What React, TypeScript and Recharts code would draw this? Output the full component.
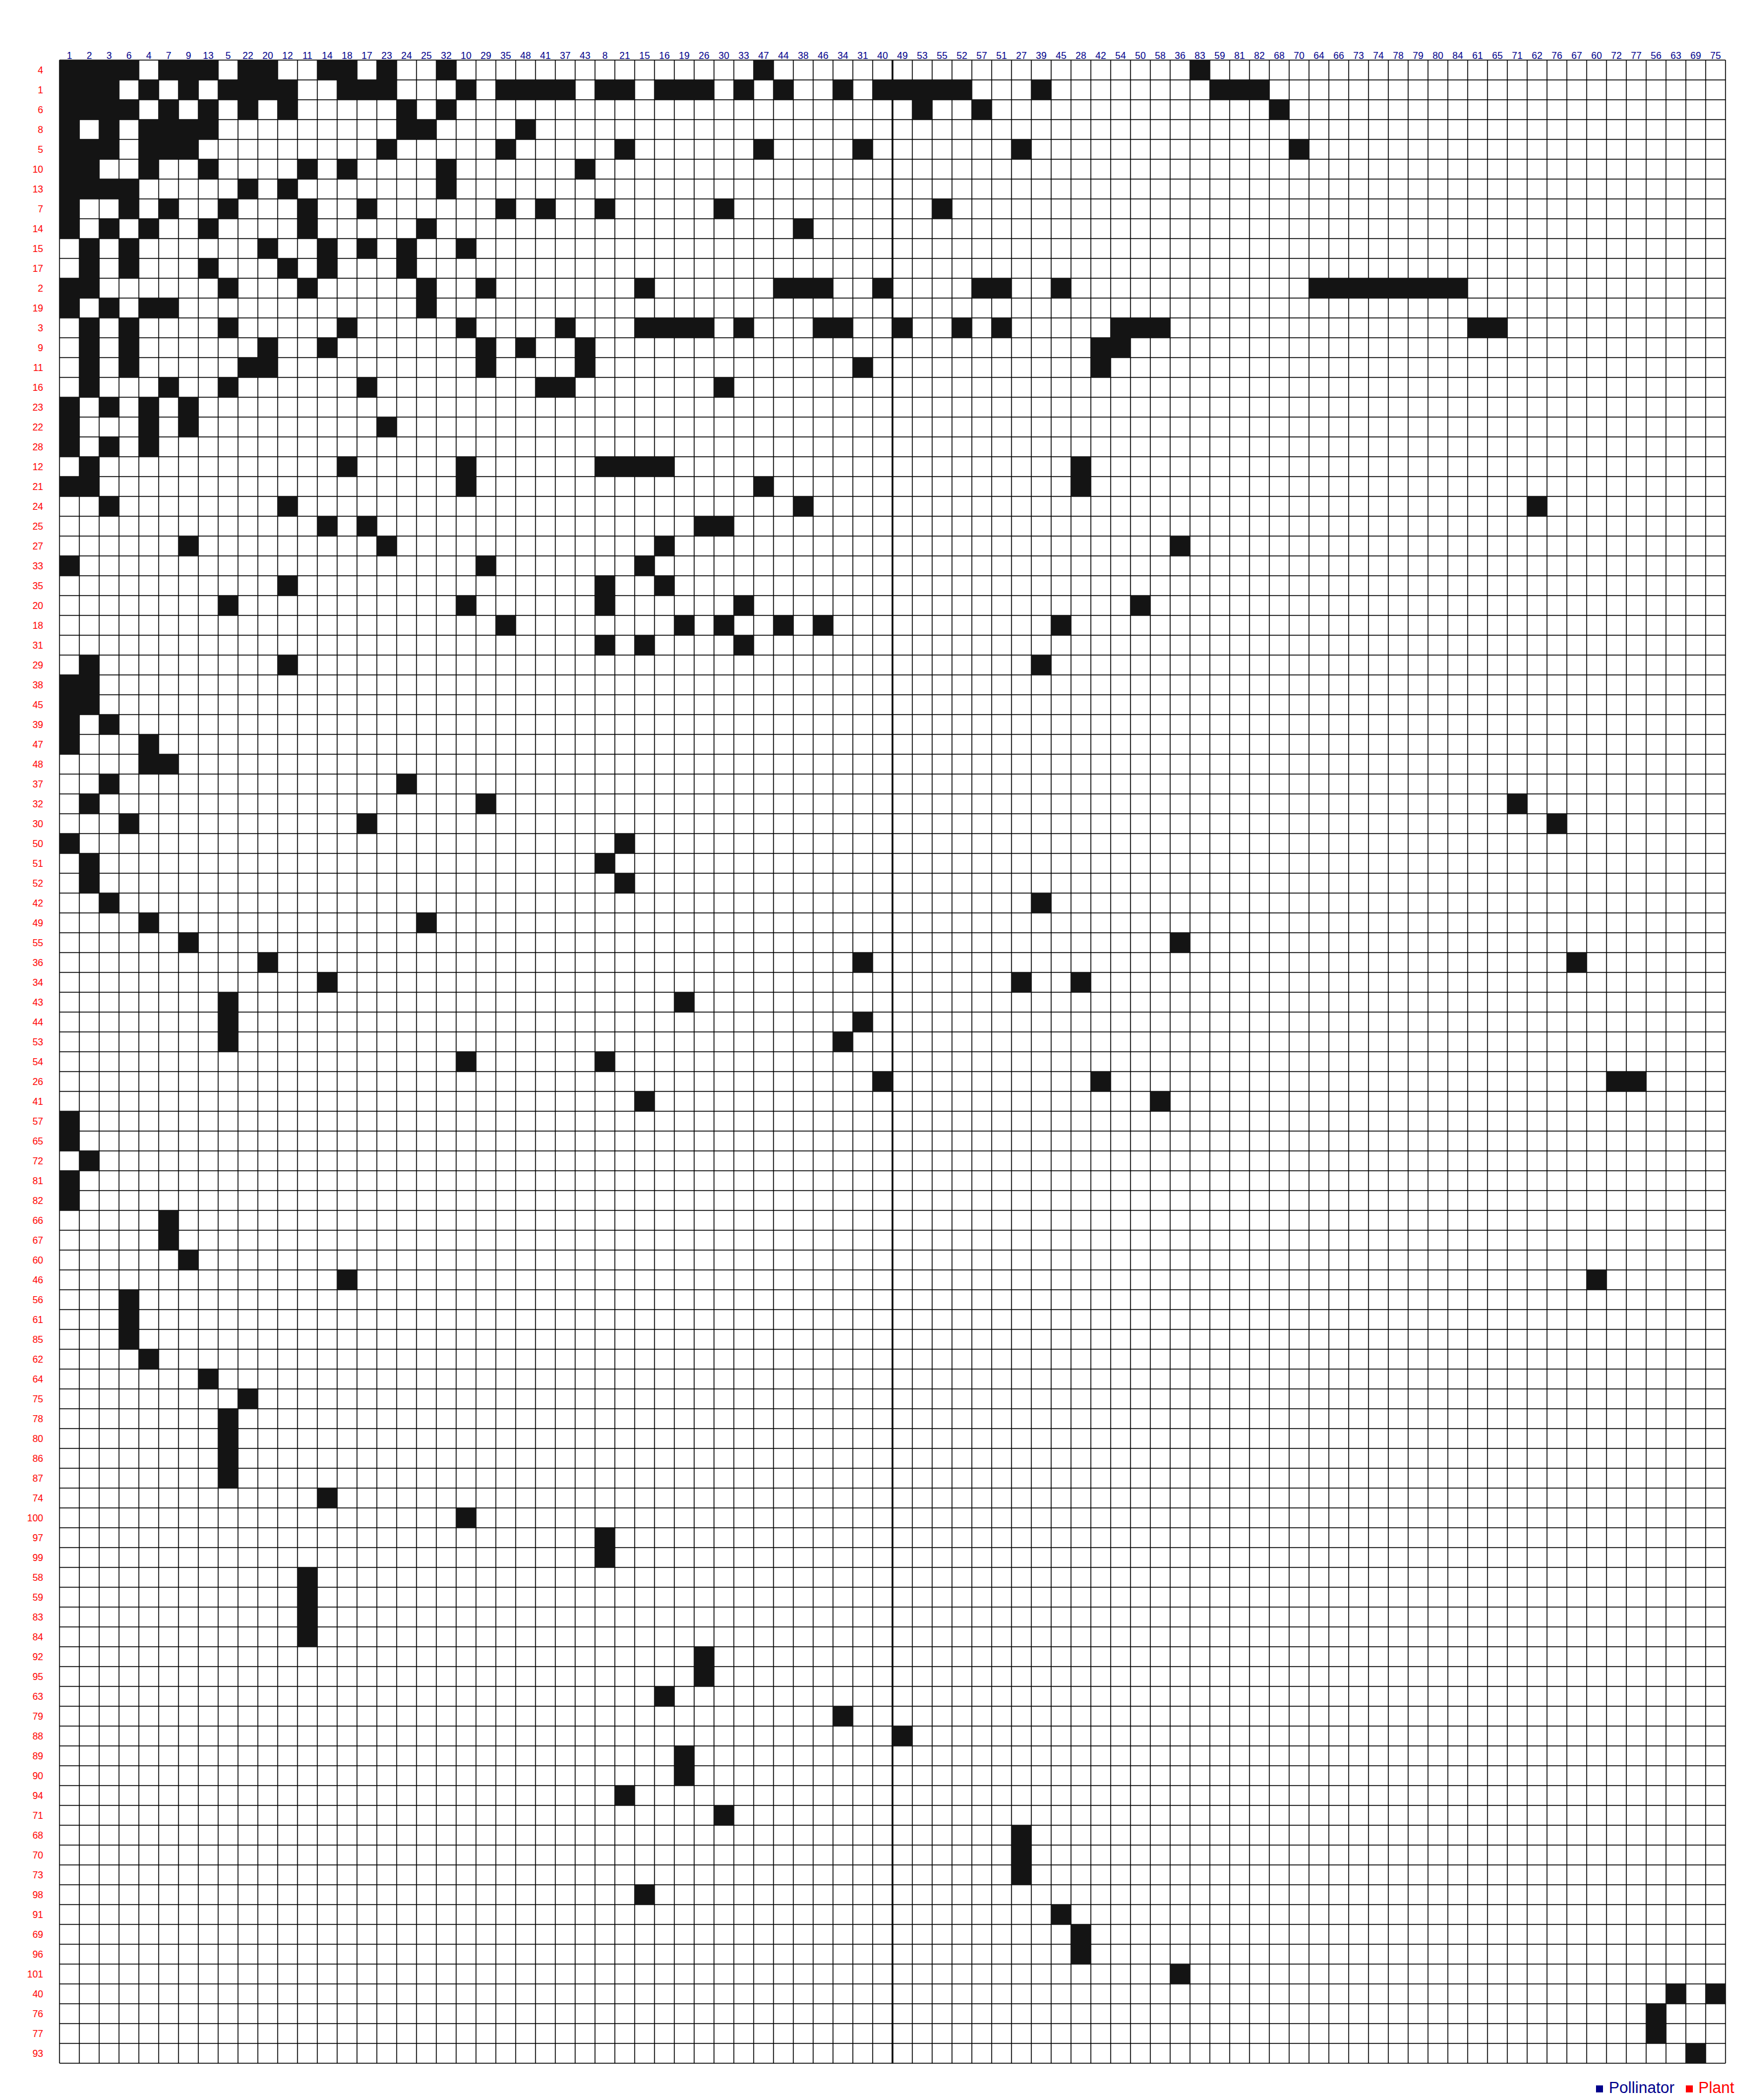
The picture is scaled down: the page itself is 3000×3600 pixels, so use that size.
import React from 'react';
import { ScatterChart, Scatter, XAxis, YAxis, ReferenceLine } from 'recharts';

// Pollinators (columns, top labels)
const pollinators: string[] = [
  '1', '2', '3', '6', '4', '7', '9', '13', '5', '22',
  '20', '12', '11', '14', '18', '17', '23', '24', '25', '32',
  '10', '29', '35', '48', '41', '37', '43', '8', '21', '15',
  '16', '19', '26', '30', '33', '47', '44', '38', '46', '34',
  '31', '40', '49', '53', '55', '52', '57', '51', '27', '39',
  '45', '28', '42', '54', '50', '58', '36', '83', '59', '81',
  '82', '68', '70', '64', '66', '73', '74', '78', '79', '80',
  '84', '61', '65', '71', '62', '76', '67', '60', '72', '77',
  '56', '63', '69', '75',
];

// Plants (rows, left labels)
const plants: string[] = [
  '4', '1', '6', '8', '5', '10', '13', '7', '14', '15',
  '17', '2', '19', '3', '9', '11', '16', '23', '22', '28',
  '12', '21', '24', '25', '27', '33', '35', '20', '18', '31',
  '29', '38', '45', '39', '47', '48', '37', '32', '30', '50',
  '51', '52', '42', '49', '55', '36', '34', '43', '44', '53',
  '54', '26', '41', '57', '65', '72', '81', '82', '66', '67',
  '60', '46', '56', '61', '85', '62', '64', '75', '78', '80',
  '86', '87', '74', '100', '97', '99', '58', '59', '83', '84',
  '92', '95', '63', '79', '88', '89', '90', '94', '71', '68',
  '70', '73', '98', '91', '69', '96', '101', '40', '76', '77',
  '93',
];

// For each plant row: positions (in the pollinators list) of observed interactions
const interactions: number[][] = [
  [0, 1, 2, 3, 5, 6, 7, 9, 10, 13, 14, 16, 19, 35, 57],
  [0, 1, 2, 4, 6, 8, 9, 10, 11, 14, 15, 16, 20, 22, 23, 24, 25, 27, 28, 30, 31, 32, 34, 36, 39, 41, 42, 43, 44, 45, 49, 58, 59, 60],
  [0, 1, 2, 3, 5, 7, 9, 11, 17, 19, 43, 46, 61],
  [0, 2, 4, 5, 6, 7, 17, 18, 23],
  [0, 1, 2, 4, 5, 6, 16, 22, 28, 35, 40, 48, 62],
  [0, 1, 4, 7, 12, 14, 19, 26],
  [0, 1, 2, 3, 9, 11, 19],
  [0, 3, 5, 8, 12, 15, 22, 24, 27, 33, 44],
  [0, 2, 4, 7, 12, 18, 37],
  [1, 3, 10, 13, 15, 17, 20],
  [1, 3, 7, 11, 13, 17],
  [0, 1, 8, 12, 18, 21, 29, 36, 37, 38, 41, 46, 47, 50, 63, 64, 65, 66, 67, 68, 69, 70],
  [0, 2, 4, 5, 18],
  [1, 3, 8, 14, 20, 25, 29, 30, 31, 32, 34, 38, 39, 42, 45, 47, 53, 54, 55, 71, 72],
  [1, 3, 10, 13, 21, 23, 26, 52, 53],
  [1, 3, 9, 10, 21, 26, 40, 52],
  [1, 5, 8, 15, 24, 25, 33],
  [0, 2, 4, 6],
  [0, 4, 6, 16],
  [0, 2, 4],
  [1, 14, 20, 27, 28, 29, 30, 51],
  [0, 1, 20, 35, 51],
  [2, 11, 37, 74],
  [13, 15, 32, 33],
  [6, 16, 30, 56],
  [0, 21, 29],
  [11, 27, 30],
  [8, 20, 27, 34, 54],
  [22, 31, 33, 36, 38, 50],
  [27, 29, 34],
  [1, 11, 49],
  [0, 1],
  [0, 1],
  [0, 2],
  [0, 4],
  [4, 5],
  [2, 17],
  [1, 21, 73],
  [3, 15, 75],
  [0, 28],
  [1, 27],
  [1, 28],
  [2, 49],
  [4, 18],
  [6, 56],
  [10, 40, 76],
  [13, 48, 51],
  [8, 31],
  [8, 40],
  [8, 39],
  [20, 27],
  [41, 52, 78, 79],
  [29, 55],
  [0],
  [0],
  [1],
  [0],
  [0],
  [5],
  [5],
  [6],
  [14, 77],
  [3],
  [3],
  [3],
  [4],
  [7],
  [9],
  [8],
  [8],
  [8],
  [8],
  [13],
  [20],
  [27],
  [27],
  [12],
  [12],
  [12],
  [12],
  [32],
  [32],
  [30],
  [39],
  [42],
  [31],
  [31],
  [28],
  [33],
  [48],
  [48],
  [48],
  [29],
  [50],
  [51],
  [51],
  [56],
  [81, 83],
  [80],
  [80],
  [82],
];

const CHART_W = 2984;
const CHART_H = 3584;
const MARGIN = { top: 55, right: 34, bottom: 55, left: 34 };
const X_AXIS_H = 40;
const Y_AXIS_W = 60;
const PLOT_W = CHART_W - MARGIN.left - MARGIN.right - Y_AXIS_W;
const PLOT_H = CHART_H - MARGIN.top - MARGIN.bottom - X_AXIS_H;
const CELL_W = PLOT_W / pollinators.length;
const CELL_H = PLOT_H / plants.length;

const FONT = '"Liberation Sans", Arial, sans-serif';
const NAVY = '#00008B';
const RED = '#FF0000';
const CELL_FILL = '#141414';

const cells = interactions.flatMap((cols, r) =>
  cols.map((c) => ({ x: c + 0.5, y: r + 0.5, plant: plants[r], pollinator: pollinators[c] }))
);

const xTicks = pollinators.map((_, i) => i + 0.5);
const yTicks = plants.map((_, i) => i + 0.5);
const xLines = Array.from({ length: pollinators.length + 1 }, (_, i) => i);
const yLines = Array.from({ length: plants.length + 1 }, (_, i) => i);

const CellShape = (props: any) => {
  const { cx, cy } = props;
  if (cx == null || cy == null) return <g />;
  return (
    <rect
      x={cx - CELL_W / 2}
      y={cy - CELL_H / 2}
      width={CELL_W}
      height={CELL_H}
      fill={CELL_FILL}
      stroke="none"
    />
  );
};

export default function App() {
  return (
    <div style={{ position: 'relative', width: CHART_W, height: CHART_H }}>
      <ScatterChart width={CHART_W} height={CHART_H} margin={MARGIN}>
        <XAxis
          type="number"
          dataKey="x"
          orientation="top"
          domain={[0, pollinators.length]}
          ticks={xTicks}
          interval={0}
          tickFormatter={(v: number) => pollinators[Math.floor(v)]}
          tickLine={false}
          axisLine={false}
          tickSize={2}
          tickMargin={0}
          height={X_AXIS_H}
          tick={{ fill: NAVY, fontSize: 16.5, fontFamily: FONT }}
        />
        <YAxis
          type="number"
          dataKey="y"
          domain={[0, plants.length]}
          reversed
          ticks={yTicks}
          interval={0}
          tickFormatter={(v: number) => plants[Math.floor(v)]}
          tickLine={false}
          axisLine={false}
          tickSize={28}
          tickMargin={0}
          width={Y_AXIS_W}
          tick={{ fill: RED, fontSize: 16.5, fontFamily: FONT }}
        />
        <Scatter
          data={cells}
          shape={CellShape}
          isAnimationActive={false}
          fill={CELL_FILL}
        />
        {xLines.map((i) => (
          <ReferenceLine
            key={`vx${i}`}
            x={i}
            stroke="#000"
            strokeWidth={i === 42 ? 3 : 1.5}
            ifOverflow="visible"
          />
        ))}
        {yLines.map((j) => (
          <ReferenceLine
            key={`hy${j}`}
            y={j}
            stroke="#000"
            strokeWidth={1.5}
            ifOverflow="visible"
          />
        ))}
      </ScatterChart>
      <div
        style={{
          position: 'absolute',
          left: 2728,
          top: 3556,
          height: 30,
          display: 'flex',
          alignItems: 'center',
          fontFamily: FONT,
          fontSize: 27,
          whiteSpace: 'nowrap',
        }}
      >
        <span style={{ display: 'inline-block', width: 12, height: 12, background: NAVY, marginRight: 10, marginTop: 4 }} />
        <span style={{ color: NAVY, marginRight: 19 }}>Pollinator</span>
        <span style={{ display: 'inline-block', width: 12, height: 12, background: RED, marginRight: 10, marginTop: 4 }} />
        <span style={{ color: RED }}>Plant</span>
      </div>
    </div>
  );
}
